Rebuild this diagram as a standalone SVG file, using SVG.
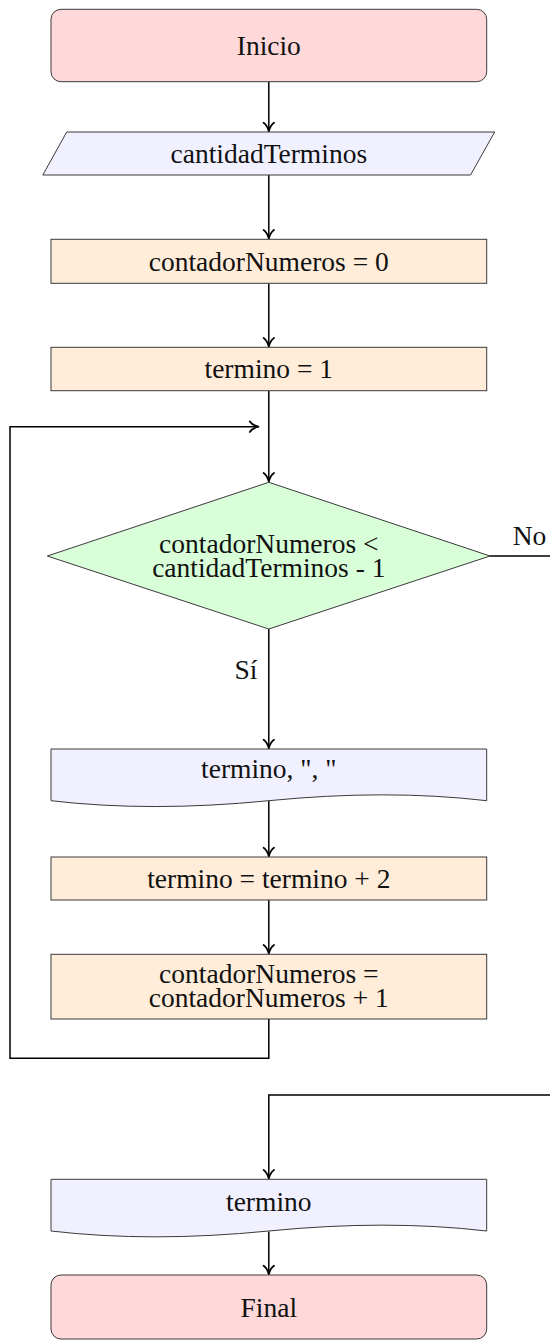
<svg xmlns="http://www.w3.org/2000/svg" width="550" height="1341" viewBox="0 0 550 1341">
<style>
  .node { stroke: #3a3a3a; stroke-width: 1; }
  .term { fill: #FFD9D9; }
  .io { fill: #F0F0FF; }
  .proc { fill: #FFECD9; }
  .dec { fill: #D9FFD9; }
  text { font-family: "Liberation Serif", "Times New Roman", serif; font-size: 27.5px; fill: #111; text-anchor: middle; }
  .conn { fill: none; stroke: #000; stroke-width: 1.5; }
</style>
<defs>
  <marker id="arr" markerWidth="14" markerHeight="14" refX="0" refY="0" viewBox="-11 -7 13 14" orient="auto" markerUnits="userSpaceOnUse">
    <path d="M-8.5,-5.2 C-6.5,-2 -2.5,-0.7 0,0 C-2.5,0.7 -6.5,2 -8.5,5.2" fill="none" stroke="#000" stroke-width="1.8" stroke-linecap="round" stroke-linejoin="round"/>
  </marker>
</defs>

<g id="connectors">
  <path class="conn" d="M268.8,81.7 V131.2" marker-end="url(#arr)"/>
  <path class="conn" d="M268.8,175 V238.5" marker-end="url(#arr)"/>
  <path class="conn" d="M268.8,283.3 V346.5" marker-end="url(#arr)"/>
  <path class="conn" d="M268.8,390.7 V481.5" marker-end="url(#arr)"/>
  <path class="conn" d="M268.8,629 V748.2" marker-end="url(#arr)"/>
  <path class="conn" d="M268.8,800.7 V856.2" marker-end="url(#arr)"/>
  <path class="conn" d="M268.8,900 V953.5" marker-end="url(#arr)"/>
  <path class="conn" d="M268.8,1019 V1058.3 H10 V426.7 H258.3" marker-end="url(#arr)"/>
  <path class="conn" d="M490,556 H553 V1095 H268.8 V1178.5" marker-end="url(#arr)"/>
  <path class="conn" d="M268.8,1231.5 V1274.2" marker-end="url(#arr)"/>
  <text x="529.5" y="544.5">No</text>
  <text x="257.5" y="679" style="text-anchor:end">Sí</text>
</g>

<g id="inicio">
  <rect class="node term" x="51" y="9.3" width="435.7" height="72.4" rx="10" ry="10"/>
  <text x="268.8" y="55">Inicio</text>
</g>

<g id="leer-cantidad">
  <polygon class="node io" points="66.7,132 494.7,132 470.5,175 42.8,175"/>
  <text x="268.8" y="162.5">cantidadTerminos</text>
</g>

<g id="init-contador">
  <rect class="node proc" x="51" y="239.3" width="435.7" height="44"/>
  <text x="268.8" y="270.5">contadorNumeros = 0</text>
</g>

<g id="init-termino">
  <rect class="node proc" x="51" y="347.3" width="435.7" height="43.4"/>
  <text x="268.8" y="378">termino = 1</text>
</g>

<g id="condicion">
  <polygon class="node dec" points="268.8,482.3 490,556 268.8,629 47.3,556"/>
  <text x="268.8" y="552.7"><tspan x="268.8" y="552.7">contadorNumeros &lt;</tspan><tspan x="268.8" y="576.7">cantidadTerminos - 1</tspan></text>
</g>

<g id="escribir-termino">
  <path class="node io" d="M51,749 H486.7 V800.7 Q387,789 268.8,800.7 T51,800.7 Z"/>
  <text x="268.8" y="778">termino, ", "</text>
</g>

<g id="incrementar-termino">
  <rect class="node proc" x="51" y="857" width="435.7" height="43"/>
  <text x="268.8" y="887.5">termino = termino + 2</text>
</g>

<g id="incrementar-contador">
  <rect class="node proc" x="51" y="954.3" width="435.7" height="64.7"/>
  <text x="268.8" y="983.2"><tspan x="268.8" y="983.2">contadorNumeros =</tspan><tspan x="268.8" y="1007.2">contadorNumeros + 1</tspan></text>
</g>

<g id="escribir-final">
  <path class="node io" d="M51,1179.3 H486.7 V1231 Q387,1219.3 268.8,1231 T51,1231 Z"/>
  <text x="268.8" y="1211">termino</text>
</g>

<g id="final">
  <rect class="node term" x="51" y="1275" width="435.7" height="64" rx="10" ry="10"/>
  <text x="268.8" y="1316.5">Final</text>
</g>
</svg>
